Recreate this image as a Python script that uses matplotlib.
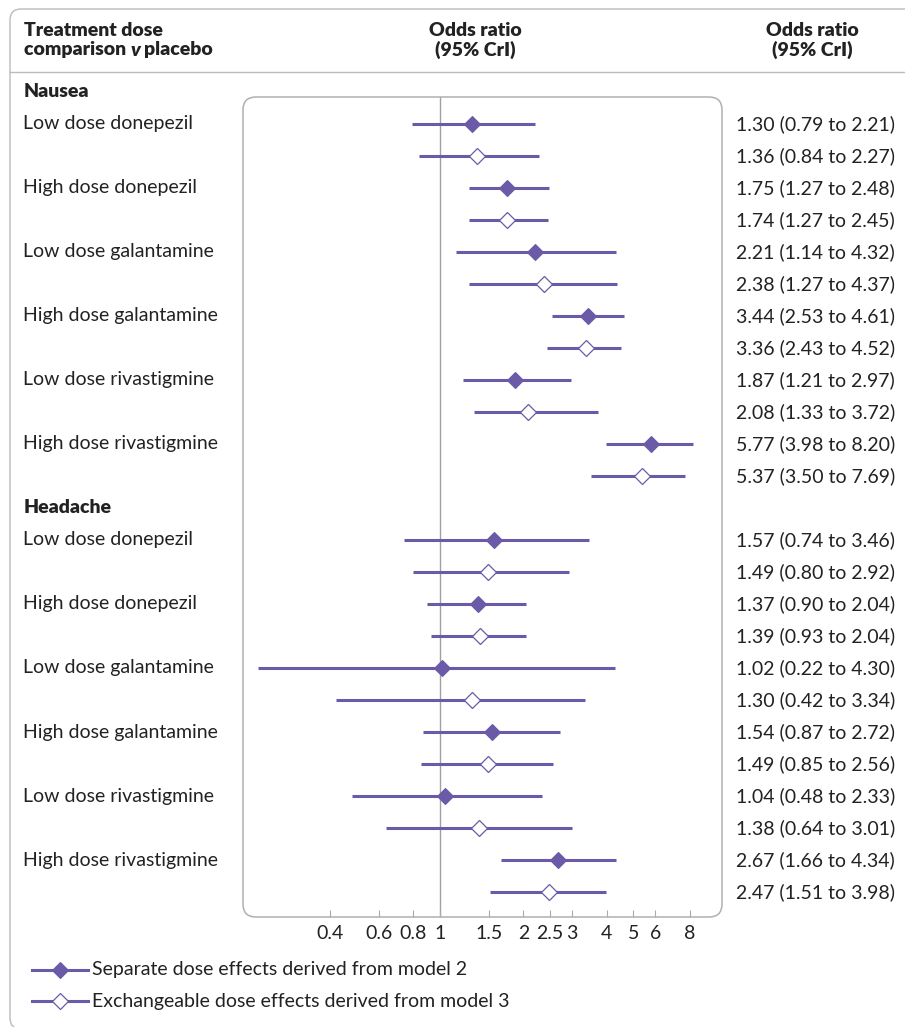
import matplotlib.pyplot as plt
from matplotlib.patches import FancyBboxPatch
from matplotlib.lines import Line2D
from matplotlib import transforms

plt.rcParams['font.family'] = ['Lato', 'DejaVu Sans']

W, H = 905, 1027
PURPLE = '#6a5aa8'
GREY = '#aaaaaa'
TXT = '#222222'
FS = 14
FSB = 14

treatments = ['Low dose donepezil', 'High dose donepezil', 'Low dose galantamine',
              'High dose galantamine', 'Low dose rivastigmine', 'High dose rivastigmine']
outcomes = ['Nausea', 'Headache']

# separate dose effects (model 2)
nausea_sep_or = [1.30, 1.75, 2.21, 3.44, 1.87, 5.77]
nausea_sep_lo = [0.79, 1.27, 1.14, 2.53, 1.21, 3.98]
nausea_sep_hi = [2.21, 2.48, 4.32, 4.61, 2.97, 8.20]
# exchangeable dose effects (model 3)
nausea_exch_or = [1.36, 1.74, 2.38, 3.36, 2.08, 5.37]
nausea_exch_lo = [0.84, 1.27, 1.27, 2.43, 1.33, 3.50]
nausea_exch_hi = [2.27, 2.45, 4.37, 4.52, 3.72, 7.69]

headache_sep_or = [1.57, 1.37, 1.02, 1.54, 1.04, 2.67]
headache_sep_lo = [0.74, 0.90, 0.22, 0.87, 0.48, 1.66]
headache_sep_hi = [3.46, 2.04, 4.30, 2.72, 2.33, 4.34]
headache_exch_or = [1.49, 1.39, 1.30, 1.49, 1.38, 2.47]
headache_exch_lo = [0.80, 0.93, 0.42, 0.85, 0.64, 1.51]
headache_exch_hi = [2.92, 2.04, 3.34, 2.56, 3.01, 3.98]

tick_vals = [0.4, 0.6, 0.8, 1, 1.5, 2, 2.5, 3, 4, 5, 6, 8]
tick_labels = ['0.4', '0.6', '0.8', '1', '1.5', '2', '2.5', '3', '4', '5', '6', '8']

legend_labels = ['Separate dose effects derived from model 2',
                 'Exchangeable dose effects derived from model 3']

data = {
    'Nausea': [(nausea_sep_or, nausea_sep_lo, nausea_sep_hi),
               (nausea_exch_or, nausea_exch_lo, nausea_exch_hi)],
    'Headache': [(headache_sep_or, headache_sep_lo, headache_sep_hi),
                 (headache_exch_or, headache_exch_lo, headache_exch_hi)],
}


def fx(x):
    return x / W


def fy(y):
    return 1 - y / H


fig = plt.figure(figsize=(W / 100, H / 100), dpi=100)

# outer frame and header rule
outer = FancyBboxPatch((10 / 100, -2 / 100), 940 / 100, (H - 9 + 2) / 100,
                       boxstyle='round,pad=0,rounding_size=0.11',
                       transform=fig.dpi_scale_trans, fc='none', ec='#bbbbbb', lw=1)
fig.patches.append(outer)
fig.add_artist(Line2D([fx(10), 1], [fy(72), fy(72)], transform=fig.transFigure,
                      color='#bbbbbb', lw=1))

# forest panel
ax = fig.add_axes([fx(243), fy(917), fx(722 - 243), (917 - 97) / H])
ax.set_xscale('log')
ax.set_xlim(0.194, 10.45)
ax.set_ylim(24.78, -0.84)
for s in ax.spines.values():
    s.set_visible(False)
ax.set_facecolor('none')

panel = FancyBboxPatch((243 / 100, (H - 917) / 100), (722 - 243) / 100, (917 - 97) / 100,
                       boxstyle='round,pad=0,rounding_size=0.13',
                       transform=fig.dpi_scale_trans, fc='none', ec='#b0b0b0', lw=1.1)
fig.patches.append(panel)

ax.axvline(1, color='#a0a0a0', lw=1, zorder=1)

lab_tr = transforms.blended_transform_factory(fig.transFigure, ax.transData)

for b, outc in enumerate(outcomes):
    base = 13 * b
    ax.text(fx(24), base - 1, outc, transform=lab_tr, ha='left', va='center',
            fontsize=FSB, fontweight='heavy', color=TXT)
    for m, (ors, los, his) in enumerate(data[outc]):
        for i in range(len(treatments)):
            y = base + 2 * i + m
            o, lo, hi = ors[i], los[i], his[i]
            ax.plot([lo, hi], [y, y], color=PURPLE, lw=2.2, solid_capstyle='butt', zorder=2)
            if m == 0:
                ax.plot([o], [y], marker='D', ms=8, color=PURPLE, mec=PURPLE, mew=0.8, zorder=3)
            else:
                ax.plot([o], [y], marker='D', ms=8.5, mfc='white', mec=PURPLE, mew=0.9, zorder=3)
            ax.text(fx(736), y, f'{o:.2f} ({lo:.2f} to {hi:.2f})', transform=lab_tr,
                    ha='left', va='center', fontsize=FS, color=TXT)
        if m == 0:
            for i, t in enumerate(treatments):
                ax.text(fx(23), base + 2 * i, t, transform=lab_tr, ha='left', va='center',
                        fontsize=FS, color=TXT)

ax.set_yticks([])
ax.xaxis.set_minor_locator(plt.NullLocator())
ax.set_xticks(tick_vals)
ax.set_xticklabels(tick_labels)
ax.tick_params(axis='x', direction='in', length=5, color=GREY, pad=6,
               labelsize=FS, labelcolor=TXT)

# header
hdr = dict(fontsize=FSB, fontweight='heavy', color=TXT, va='center')
fig.text(fx(24), fy(31), 'Treatment dose', ha='left', **hdr)
t1 = fig.text(fx(24), fy(50), 'comparison ', ha='left', **hdr)
fig.canvas.draw()
r = fig.canvas.get_renderer()
x1 = t1.get_window_extent(r).x1
t2 = fig.text(x1 / W, fy(50), 'v', ha='left', style='italic', **hdr)
x2 = t2.get_window_extent(r).x1
fig.text(x2 / W + 3 / W, fy(50), 'placebo', ha='left', **hdr)
for cx in (475, 812):
    fig.text(fx(cx), fy(31), 'Odds ratio', ha='center', **hdr)
    fig.text(fx(cx), fy(50), '(95% CrI)', ha='center', **hdr)

# legend
for k, lab in enumerate(legend_labels):
    yy = fy(970 + 31 * k)
    fig.add_artist(Line2D([fx(32), fx(88)], [yy, yy], transform=fig.transFigure,
                          color=PURPLE, lw=2.2))
    if k == 0:
        mk = Line2D([fx(60)], [yy], transform=fig.transFigure, marker='D', ms=8,
                    color=PURPLE, mew=0.8)
    else:
        mk = Line2D([fx(60)], [yy], transform=fig.transFigure, marker='D', ms=8.5,
                    mfc='white', mec=PURPLE, mew=0.9)
    fig.add_artist(mk)
    fig.text(fx(92), yy, lab, ha='left', va='center', fontsize=FS, color=TXT)

fig.savefig('out.png', dpi=100)
